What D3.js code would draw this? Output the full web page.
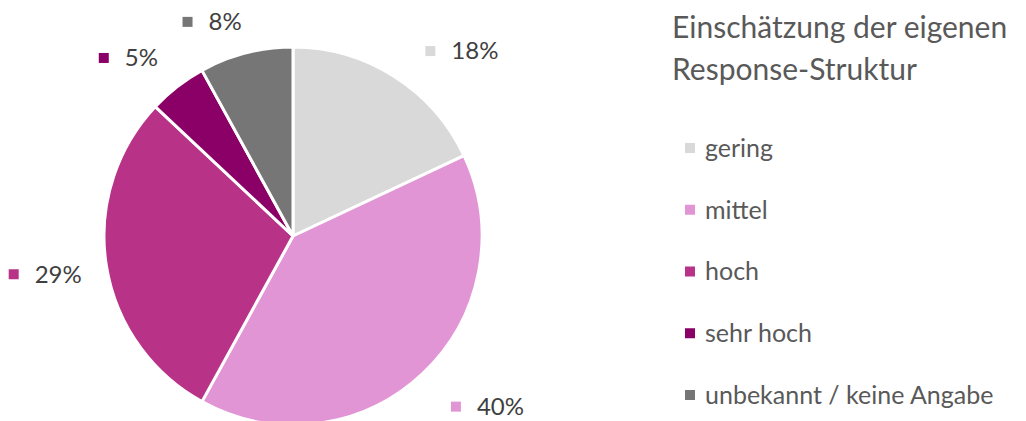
<!DOCTYPE html>
<html>
<head>
<meta charset="utf-8">
<script src="https://cdn.jsdelivr.net/npm/d3@7"></script>
<style>
  html, body { margin: 0; padding: 0; background: #fff; }
  svg { display: block; font-family: "Source Sans Pro", Lato, "Noto Sans", sans-serif; }
</style>
</head>
<body>
<svg id="chart" width="1026" height="421"></svg>
<script>
const categories = ["gering", "mittel", "hoch", "sehr hoch", "unbekannt / keine Angabe"];
const values = [18, 40, 29, 5, 8];
const valueLabels = ["18%", "40%", "29%", "5%", "8%"];
const colors = ["#d9d9d9", "#e295d5", "#b83287", "#8b0066", "#767676"];
const titleLines = ["Einschätzung der eigenen", "Response-Struktur"];

const svg = d3.select("#chart");
const cx = 293, cy = 236, radius = 189;

const pie = d3.pie().sort(null).value(d => d)(values);
const arc = d3.arc().innerRadius(0).outerRadius(radius);

const g = svg.append("g").attr("transform", `translate(${cx},${cy})`);

g.selectAll(".slice")
  .data(pie)
  .join("path")
  .attr("class", "slice")
  .attr("d", arc)
  .attr("fill", (d, i) => colors[i])
  .attr("stroke", "#fff")
  .attr("stroke-width", 3)
  .attr("stroke-linejoin", "round");

// data labels outside the pie, with a colour square before the text
const labelArc = d3.arc().innerRadius(radius + 30).outerRadius(radius + 30);
const labelOffsets = [[43, 0], [36, 11], [-40, 4], [-32, -5], [-28, -2]];

const labels = g.selectAll(".lbl")
  .data(pie)
  .join("g")
  .attr("class", "lbl")
  .attr("transform", (d, i) => {
    const [x, y] = labelArc.centroid(d);
    return `translate(${x + labelOffsets[i][0]},${y + labelOffsets[i][1]})`;
  });

labels.append("rect")
  .attr("x", -28).attr("y", -5)
  .attr("width", 10).attr("height", 10)
  .attr("fill", (d, i) => colors[i]);

labels.append("text")
  .attr("x", -2)
  .attr("dy", "0.35em")
  .attr("font-size", 24)
  .attr("fill", "#404040")
  .text((d, i) => valueLabels[i]);

// legend
const legend = svg.append("g").attr("transform", "translate(672,0)");

legend.selectAll(".title")
  .data(titleLines)
  .join("text")
  .attr("class", "title")
  .attr("x", 0)
  .attr("y", (d, i) => 38 + i * 42)
  .attr("font-size", 30)
  .attr("fill", "#595959")
  .text(d => d);

const yLegend = d3.scalePoint().domain(categories).range([148, 395]);

const items = legend.selectAll(".item")
  .data(categories)
  .join("g")
  .attr("class", "item")
  .attr("transform", d => `translate(0,${yLegend(d)})`);

items.append("rect")
  .attr("x", 13).attr("y", -5)
  .attr("width", 10).attr("height", 10)
  .attr("fill", (d, i) => colors[i]);

items.append("text")
  .attr("x", 33)
  .attr("dy", "0.35em")
  .attr("font-size", 25)
  .attr("fill", "#595959")
  .text(d => d);
</script>
</body>
</html>
